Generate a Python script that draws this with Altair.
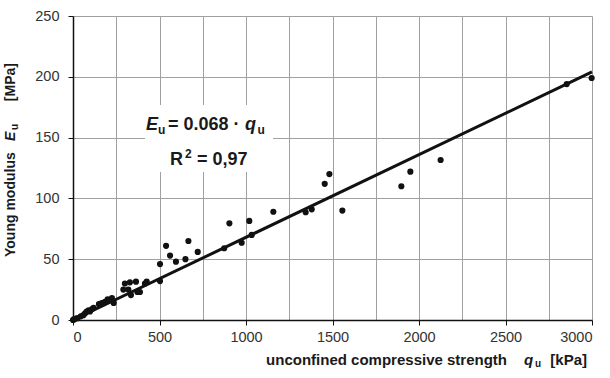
import altair as alt
import pandas as pd

# measured data points (unconfined compressive strength q_u [kPa], Young modulus E_u [MPa])
qu = [0, 5, 12, 25, 45, 60, 70, 79, 90, 98, 110, 119, 150, 166, 185, 200, 225, 235,
      291, 300, 320, 329, 335, 364, 372, 387, 416, 426, 503, 503, 538, 561, 595, 650,
      667, 721, 874, 904, 975, 1019, 1033, 1158, 1345, 1380, 1455, 1482, 1557, 1898,
      1950, 2125, 2854, 2998]
Eu = [0, 0.5, 1, 1.5, 3, 4, 5.5, 7, 8, 7, 9, 10, 13, 14, 15, 17, 18, 14,
      25, 30, 25, 31, 20.5, 31.5, 23, 23, 30, 31.5, 32, 46, 61, 53, 48, 50,
      65, 56, 59, 79.5, 63.5, 81.5, 70, 89, 88.6, 91, 112, 120, 90, 110,
      122, 131.6, 194, 199]

# regression line end points
fit_q = [0, 3000]
fit_E = [0, 204]

x_ticks = list(range(0, 3001, 250))
y_ticks = list(range(0, 251, 25))

FONT = "Liberation Sans"
L, T = 73, 16  # plot origin in page pixels

pts = pd.DataFrame({"qu": qu, "Eu": Eu})
fit = pd.DataFrame({"qu": fit_q, "Eu": fit_E})
one = pd.DataFrame({"a": [0]})

xscale = alt.Scale(domain=[0, 3000], nice=False)
yscale = alt.Scale(domain=[0, 250], nice=False)

xaxis = alt.Axis(
    values=x_ticks, format="d",
    labelExpr="datum.value % 500 == 0 ? datum.label : ''",
    tickOpacity={"condition": {"test": "datum.value % 500 == 0", "value": 1}, "value": 0},
    grid=True, gridColor="#a0a0a0", gridWidth=1,
    domainColor="#111111", domainWidth=1.5, tickColor="#111111", tickSize=5,
    labelFont=FONT, labelFontSize=14.5, labelColor="#333333", labelPadding=5,
    title=None,
)
yaxis = alt.Axis(
    values=y_ticks, format="d",
    labelExpr="datum.value % 50 == 0 ? datum.label : ''",
    tickOpacity={"condition": {"test": "datum.value % 50 == 0", "value": 1}, "value": 0},
    grid=True, gridColor="#a0a0a0", gridWidth=1,
    domainColor="#111111", domainWidth=1.5, tickColor="#111111", tickSize=5,
    labelFont=FONT, labelFontSize=14.5, labelColor="#333333", labelPadding=9,
    title=None,
)

points = alt.Chart(pts).mark_circle(size=38, color="#111111", opacity=1).encode(
    x=alt.X("qu:Q", scale=xscale, axis=xaxis),
    y=alt.Y("Eu:Q", scale=yscale, axis=yaxis),
)

line = alt.Chart(fit).mark_line(color="#111111", strokeWidth=3).encode(
    x=alt.X("qu:Q", scale=xscale),
    y=alt.Y("Eu:Q", scale=yscale),
)

box = alt.Chart(one).mark_rect(color="white").encode(
    x=alt.value(145 - L), x2=alt.value(273 - L),
    y=alt.value(105 - T), y2=alt.value(172 - T),
)


def txt(s, x, y, size, italic=False, align="left", angle=0):
    return alt.Chart(one).mark_text(
        text=s, font=FONT, fontSize=size, fontWeight="bold",
        fontStyle="italic" if italic else "normal",
        align=align, baseline="middle", angle=angle, color="#1a1a1a",
    ).encode(x=alt.value(x - L), y=alt.value(y - T))


annot = [
    txt("E", 146, 125, 18, italic=True),
    txt("u", 158, 130, 12),
    txt("= 0.068 ·", 168, 125, 18),
    txt("q", 245, 125, 18, italic=True),
    txt("u", 257.5, 130, 12),
    txt("R", 170, 160, 18),
    txt("2", 185, 154, 12),
    txt("= 0,97", 197, 160, 18),
]

xtitle = [
    txt("unconfined compressive strength", 507, 360, 15, align="right"),
    txt("q", 524, 360, 15, italic=True),
    txt("u", 535, 364, 10),
    txt("[kPa]", 587, 360, 15, align="right"),
]

ytitle = [
    txt("Young modulus", 11, 257, 14, align="left", angle=270),
    txt("E", 11, 141, 14, italic=True, align="left", angle=270),
    txt("u", 15, 130, 10, align="left", angle=270),
    txt("[MPa]", 11, 63, 14, align="right", angle=270),
]

chart = alt.layer(points, box, line, *annot, *xtitle, *ytitle).properties(
    width=519, height=304,
    autosize=alt.AutoSizeParams(type="none"),
    padding={"left": L, "top": T, "right": 18, "bottom": 58},
    background="white",
).configure_view(stroke=None)

chart.save("out.html", embed_options={"renderer": "svg", "actions": False})
